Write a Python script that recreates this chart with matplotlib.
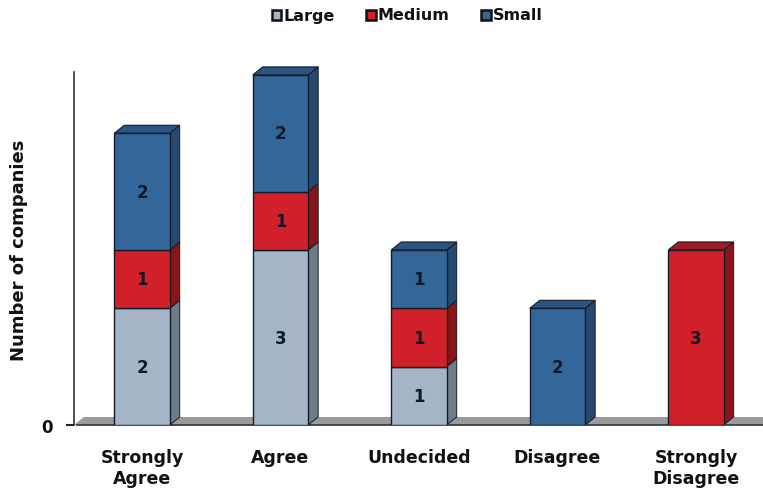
import os
import numpy as np
import matplotlib
matplotlib.use('Agg')
import matplotlib.pyplot as plt
from matplotlib.font_manager import FontProperties
from matplotlib.patches import Polygon, Rectangle
from matplotlib.transforms import ScaledTranslation

# the wide bold face that ships with matplotlib
bold_path = os.path.join(matplotlib.get_data_path(), 'fonts', 'ttf', 'DejaVuSans-Bold.ttf')


def bold(size):
    return FontProperties(fname=bold_path, size=size)


categories = ['Strongly\nAgree', 'Agree', 'Undecided', 'Disagree', 'Strongly\nDisagree']
series_names = ['Large', 'Medium', 'Small']
large = [2, 3, 1, 0, 0]
medium = [1, 1, 1, 0, 3]
small = [2, 2, 1, 2, 0]

front = ['#A3B5C7', '#D2202A', '#336699']
side = ['#6E7C89', '#8A1519', '#26496F']
top = ['#8A99A8', '#A01A20', '#2B5482']
edge = '#141C28'

fig = plt.figure(figsize=(7.63, 4.88), dpi=100)
ax = fig.add_axes([74 / 763, (488 - 425) / 488, (763 - 74) / 763, 353 / 488])
ax.set_xlim(-0.491, 4.484)
ax.set_ylim(0, 6.05)

w = 0.2
dx = 10 / 138.5  # 3d depth in data units
dy = 8 / 58.3

# floor
ax.add_patch(Polygon([(-0.491, 0), (-0.491 + dx, dy), (4.484, dy), (4.484, 0)],
                     fc='#9A9A9A', ec='none', clip_on=False, zorder=1))
ax.plot([-0.47, 4.484], [0, 0], color='#3A3F45', lw=1.3, zorder=1.5, clip_on=False)

for i in range(len(categories)):
    bottom = 0
    vals = [large[i], medium[i], small[i]]
    last = max(j for j in range(3) if vals[j] > 0)
    for j, v in enumerate(vals):
        if v == 0:
            continue
        x0, x1 = i - w, i + w
        ax.add_patch(Polygon([(x1, bottom), (x1 + dx, bottom + dy), (x1 + dx, bottom + v + dy), (x1, bottom + v)],
                             fc=side[j], ec=edge, lw=0.7, zorder=2 + bottom, clip_on=False))
        if j == last:
            ax.add_patch(Polygon([(x0, bottom + v), (x0 + dx, bottom + v + dy), (x1 + dx, bottom + v + dy), (x1, bottom + v)],
                                 fc=top[j], ec=edge, lw=0.8, zorder=2 + bottom, clip_on=False))
        ax.add_patch(Rectangle((x0, bottom), x1 - x0, v, fc=front[j], ec=edge, lw=1.0, zorder=2.5 + bottom))
        ax.text(i, bottom + v / 2 - 0.02, str(v), ha='center', va='center', fontproperties=bold(12),
                color='#10182A', zorder=20)
        bottom += v

# axes
for s in ['top', 'right', 'bottom']:
    ax.spines[s].set_visible(False)
ax.spines['left'].set_color('#333333')
ax.spines['left'].set_linewidth(1.2)
ax.set_xticks(range(len(categories)))
ax.set_xticklabels(categories, fontproperties=bold(12.5), color='#111111', linespacing=1.25)
ax.tick_params(axis='x', length=0, pad=17)
ax.set_yticks([0])
ax.set_yticklabels(['0'], fontproperties=bold(12), color='#111111', va='center')
ax.tick_params(axis='y', length=5.5, width=1.5, color='#222222', pad=10)
zero_label = ax.get_yticklabels()[0]
zero_label.set_transform(zero_label.get_transform() + ScaledTranslation(0, -3 / 100, fig.dpi_scale_trans))
ax.spines['left'].set_zorder(1)
ax.set_ylabel('Number of companies', fontproperties=bold(13), color='#111111')
ax.yaxis.set_label_coords((28 - 74) / 689, (425 - 250) / 353)

# legend
handles = [Rectangle((0, 0), 1, 1, fc=front[k], ec='#111111', lw=1.8) for k in range(3)]
fig.legend(handles, series_names, loc='center', bbox_to_anchor=(407 / 763, 1 - 16 / 488), ncol=3,
           frameon=False, handlelength=0.62, handleheight=0.62, handletextpad=0.12, columnspacing=1.95,
           prop=bold(11.5), labelcolor='#111111')

fig.savefig('out.png', dpi=100)
